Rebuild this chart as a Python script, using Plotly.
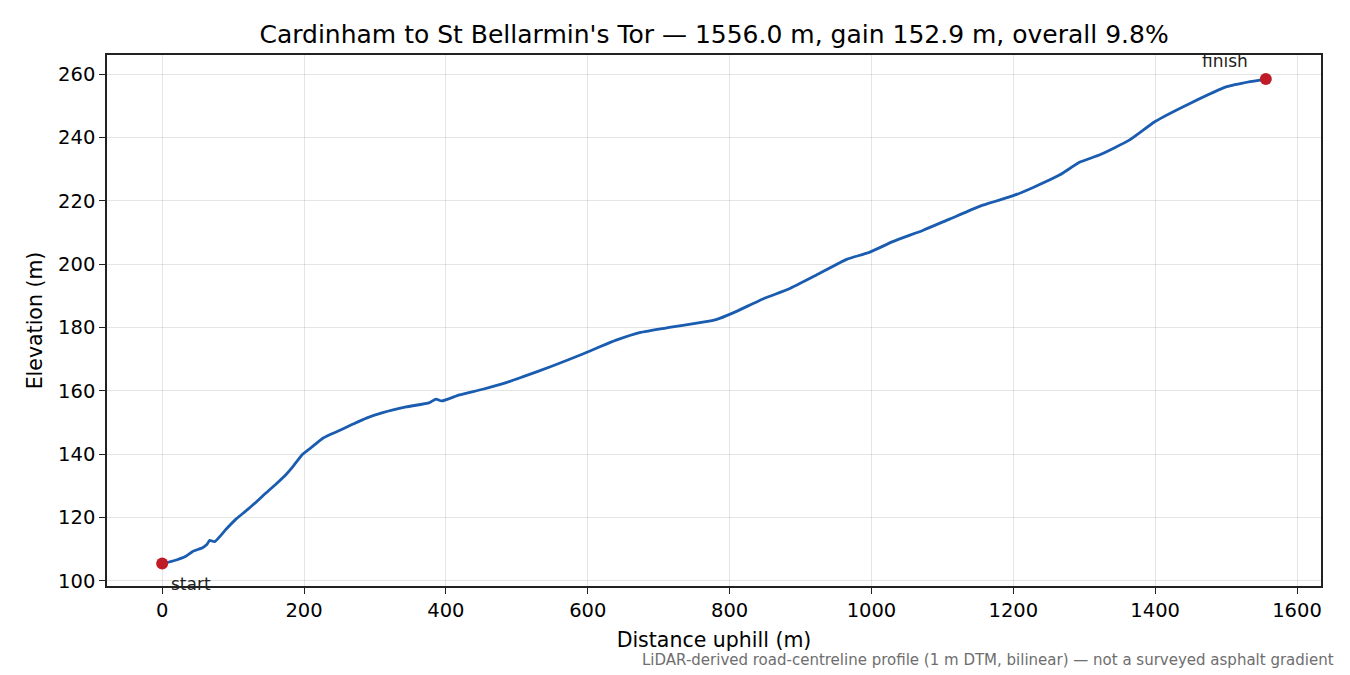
import plotly.graph_objects as go

dist_m = [0, 15, 34, 43, 57, 63, 67, 74, 90, 104, 118, 133, 147, 161, 175, 184, 198, 213, 227, 246, 269, 288,
          311, 344, 377, 386, 394, 419, 452, 485,
          508, 551, 593, 617, 640, 673, 715, 758, 781, 805, 847, 885, 922, 965, 997, 1030, 1073, 1110, 1157,
          1200, 1228, 1265, 1294, 1322, 1364, 1400, 1449, 1501, 1534, 1556]
elev_m = [105.5, 106.3, 107.9, 109.3, 110.5, 111.5, 112.8, 112.4, 116.3, 119.5, 122.1, 125.0, 127.9, 130.7,
          133.7, 136.0, 140.0, 142.6, 145.1, 147.1, 149.5, 151.4,
          153.1, 154.9, 156.3, 157.4, 156.8, 158.7, 160.5, 162.6,
          164.4, 167.9, 171.6, 173.9, 176.0, 178.4, 180.0, 181.5, 182.5, 184.6, 189.0, 192.3, 196.5, 201.5,
          203.7, 207.1, 210.7, 214.2, 218.6,
          221.6, 224.2, 228.1, 232.2, 234.5, 239.2, 245.0, 250.7, 256.0, 257.6, 258.4]

end_labels = ["start", "finish"]
x_ticks = [0, 200, 400, 600, 800, 1000, 1200, 1400, 1600]
y_ticks = [100, 120, 140, 160, 180, 200, 220, 240, 260]

title_text = "Cardinham to St Bellarmin's Tor — 1556.0 m, gain 152.9 m, overall 9.8%"
footnote = "LiDAR-derived road-centreline profile (1 m DTM, bilinear) — not a surveyed asphalt gradient"

FONT = "DejaVu Sans"

fig = go.Figure()
fig.add_trace(go.Scatter(x=dist_m, y=elev_m, mode="lines",
                         line=dict(color="#1a5cb0", width=2.8, shape="spline", smoothing=0.5),
                         hoverinfo="skip"))
fig.add_trace(go.Scatter(x=[dist_m[0], dist_m[-1]], y=[elev_m[0], elev_m[-1]], mode="markers",
                         marker=dict(color="#c01c28", size=12), hoverinfo="skip"))

fig.add_annotation(x=dist_m[0], y=elev_m[0], text=end_labels[0], showarrow=False,
                   xanchor="left", yanchor="middle", xshift=7, yshift=-20,
                   font=dict(family=FONT, size=17, color="#222222"))
fig.add_annotation(x=dist_m[-1], y=elev_m[-1], text=end_labels[1], showarrow=False,
                   xanchor="right", yanchor="middle", xshift=-16, yshift=18,
                   font=dict(family=FONT, size=17, color="#222222"))
fig.add_annotation(xref="paper", yref="paper", x=1.0124, y=-0.139, text=footnote, showarrow=False,
                   xanchor="right", yanchor="middle",
                   font=dict(family=FONT, size=15, color="#6e6e6e"))

axis_common = dict(showline=True, linecolor="#222222", linewidth=1.5, mirror=True,
                   ticks="outside", ticklen=6, tickcolor="#222222", tickwidth=1.3,
                   showgrid=True, gridcolor="rgba(0,0,0,0.1)", gridwidth=1.3, zeroline=False,
                   tickfont=dict(family=FONT, size=19.5, color="#000000"))

fig.update_layout(
    width=1350, height=675,
    paper_bgcolor="white", plot_bgcolor="white",
    margin=dict(l=99, r=37, t=47, b=97),
    showlegend=False,
    title=dict(text=title_text, x=0.523, xanchor="center", y=0.9615, yanchor="middle",
               font=dict(family=FONT, size=25, color="#000000")),
    xaxis=dict(range=[-77.8, 1633.8], tickvals=x_ticks,
               title=dict(text="Distance uphill (m)", font=dict(family=FONT, size=20.5, color="#000000"), standoff=11),
               **axis_common),
    yaxis=dict(range=[98.4, 266.0], tickvals=y_ticks,
               title=dict(text="Elevation (m)", font=dict(family=FONT, size=20.5, color="#000000"), standoff=10),
               **axis_common),
)

fig.write_html("out.html")
